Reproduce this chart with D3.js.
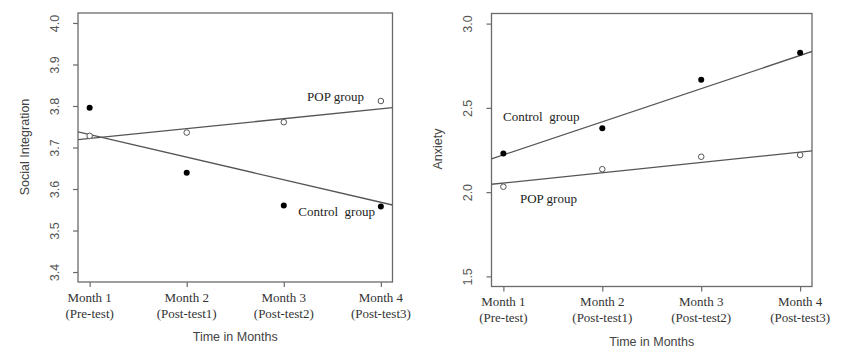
<!DOCTYPE html>
<html><head><meta charset="utf-8">
<script src="https://cdn.jsdelivr.net/npm/d3@7"></script>
<style>body{margin:0;background:#fff}svg{display:block}</style>
</head><body>
<svg id="c" width="846" height="356"></svg>
<script>
const months = ["Month 1","Month 2","Month 3","Month 4"];
const phases = ["(Pre-test)","(Post-test1)","(Post-test2)","(Post-test3)"];
const monthIdx = [1,2,3,4];

const socialTicks = [3.4,3.5,3.6,3.7,3.8,3.9,4.0];
const socialPOP = [3.728,3.736,3.761,3.812];
const socialControl = [3.796,3.639,3.560,3.558];
const socialPOPFit = [3.722,3.793];      // fitted values at Month 1 and Month 4
const socialControlFit = [3.731,3.568];

const anxietyTicks = [1.5,2.0,2.5,3.0];
const anxietyControl = [2.229,2.379,2.667,2.827];
const anxietyPOP = [2.032,2.136,2.210,2.220];
const anxietyControlFit = [2.221,2.811];
const anxietyPOPFit = [2.054,2.237];

const svg = d3.select("#c");
const SERIF = "'Liberation Serif','Times New Roman',serif";
const SANS = "'Liberation Sans',Arial,sans-serif";

function panel(o){
  const x = d3.scaleLinear().domain([0.88,4.12]).range([o.left,o.right]);
  const ext = (o.yd[1]-o.yd[0])*0.04;
  const y = d3.scaleLinear().domain([o.yd[0]-ext,o.yd[1]+ext]).range([o.bottom,o.top]);
  const g = svg.append("g");

  // frame
  g.append("rect").attr("x",o.left).attr("y",o.top)
    .attr("width",o.right-o.left).attr("height",o.bottom-o.top)
    .attr("fill","none").attr("stroke","#6a6a6a").attr("stroke-width",1.3);

  // x axis
  const xa = d3.axisBottom(x).tickValues(monthIdx).tickSize(5).tickFormat("");
  const gx = g.append("g").attr("transform",`translate(0,${o.bottom})`).call(xa);
  gx.select(".domain").remove();
  gx.selectAll("line").attr("stroke","#6a6a6a").attr("stroke-width",1.2);
  monthIdx.forEach((m,i)=>{
    const t = g.append("text").attr("x",x(m)).attr("text-anchor","middle")
      .attr("font-family",SERIF).attr("font-size",13).attr("fill","#333");
    t.append("tspan").attr("x",x(m)).attr("y",o.xl1).text(months[i]);
    t.append("tspan").attr("x",x(m)).attr("y",o.xl2).text(phases[i]);
  });

  // y axis
  const ya = d3.axisLeft(y).tickValues(o.ticks).tickSize(5).tickFormat(d3.format(".1f"));
  const gy = g.append("g").attr("transform",`translate(${o.left},0)`).call(ya);
  gy.select(".domain").remove();
  gy.selectAll("line").attr("stroke","#6a6a6a").attr("stroke-width",1.2);
  gy.selectAll("text").attr("font-family",SANS).attr("font-size",12.5).attr("fill","#555")
    .attr("x",0).attr("y",0).attr("dy",null).attr("text-anchor","middle")
    .attr("dominant-baseline","central")
    .attr("transform",`translate(${o.tickX-o.left},0) rotate(-90)`);

  // titles
  g.append("text").attr("x",(o.left+o.right)/2).attr("y",o.xt)
    .attr("text-anchor","middle").attr("dominant-baseline","central")
    .attr("font-family",SANS).attr("font-size",12.5).attr("fill","#444").text("Time in Months");
  g.append("text").attr("transform",`translate(${o.ytX},${o.ytY}) rotate(-90)`)
    .attr("text-anchor","middle").attr("dominant-baseline","central")
    .attr("font-family",SANS).attr("font-size",12.5).attr("fill","#444").text(o.ytitle);

  // fitted lines across the whole plotting region
  const clip = "clip"+o.id;
  g.append("clipPath").attr("id",clip).append("rect")
    .attr("x",o.left).attr("y",o.top).attr("width",o.right-o.left).attr("height",o.bottom-o.top);
  o.fits.forEach(f=>{
    const slope = (f[1]-f[0])/3;
    const at = m => f[0]+slope*(m-1);
    g.append("line").attr("clip-path",`url(#${clip})`)
      .attr("x1",x(0.88)).attr("y1",y(at(0.88)))
      .attr("x2",x(4.12)).attr("y2",y(at(4.12)))
      .attr("stroke","#555").attr("stroke-width",1.3);
  });

  // points
  g.selectAll(null).data(o.filled).enter().append("circle")
    .attr("cx",(d,i)=>x(monthIdx[i])).attr("cy",d=>y(d)).attr("r",3)
    .attr("fill","#000");
  g.selectAll(null).data(o.open).enter().append("circle")
    .attr("cx",(d,i)=>x(monthIdx[i])).attr("cy",d=>y(d)).attr("r",2.8)
    .attr("fill","#fff").attr("stroke","#555").attr("stroke-width",1);

  // group labels
  o.labels.forEach(l=>{
    g.append("text").attr("x",x(l.x)).attr("y",y(l.y)).attr("dominant-baseline","central")
      .attr("font-family",SERIF).attr("font-size",13).attr("fill","#222")
      .style("white-space","pre").attr("xml:space","preserve").text(l.t);
  });
}

panel({id:"a",left:78,right:392.5,top:13,bottom:282,yd:[3.4,4.0],ticks:socialTicks,
  tickX:55,ytX:25,ytY:147,ytitle:"Social Integration",xl1:302,xl2:318,xt:337,
  filled:socialControl,open:socialPOP,fits:[socialPOPFit,socialControlFit],
  labels:[{x:3.24,y:3.822,t:"POP group"},{x:3.15,y:3.546,t:"Control  group"}]});

panel({id:"b",left:491.5,right:812,top:13.5,bottom:286.5,yd:[1.5,3.0],ticks:anxietyTicks,
  tickX:468,ytX:438,ytY:149,ytitle:"Anxiety",xl1:306,xl2:322,xt:342,
  filled:anxietyControl,open:anxietyPOP,fits:[anxietyControlFit,anxietyPOPFit],
  labels:[{x:0.996,y:2.446,t:"Control  group"},{x:1.168,y:1.965,t:"POP group"}]});
</script>
</body></html>
